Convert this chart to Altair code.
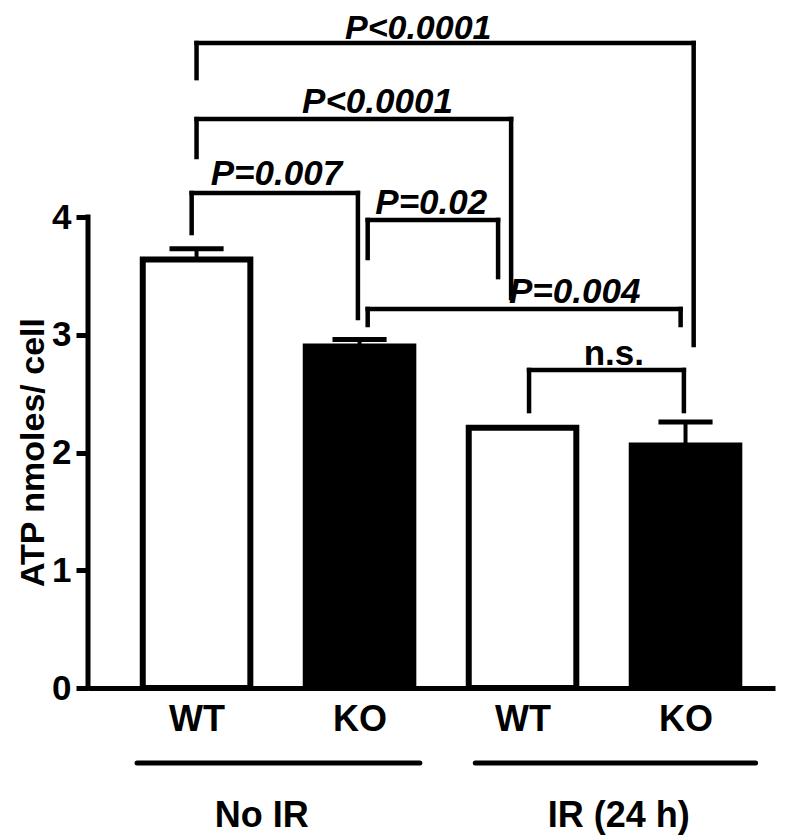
import altair as alt
import pandas as pd

# ---- data ----
genotypes = ["WT", "KO", "WT", "KO"]
conditions = ["No IR", "No IR", "IR (24 h)", "IR (24 h)"]
means = [3.64, 2.90, 2.21, 2.06]
sems = [0.09, 0.06, 0.0, 0.20]
bar_fills = ["white", "black", "white", "black"]

# significance brackets (x in bar-index units, y in ATP units)
bracket_labels = ["P<0.0001", "P<0.0001", "P=0.007", "P=0.02", "P=0.004", "n.s."]
bracket_italic = [True, True, True, True, True, False]
bracket_x1 = [0.0, 0.0, -0.03, 1.05, 1.05, 2.04]
bracket_x2 = [3.05, 1.93, 0.99, 1.85, 2.97, 2.99]
bracket_y = [5.478, 4.832, 4.204, 3.975, 3.219, 2.701]
bracket_y_left = [5.18, 4.51, 3.864, 3.652, 3.083, 2.352]
bracket_y_right = [2.913, 3.312, 3.142, 3.490, 3.083, 2.352]
bracket_text_x = [1.36, 1.11, 0.49, 1.44, 2.32, 2.56]
bracket_text_y = [5.513, 4.88, 4.27, 4.03, 3.27, 2.74]

# group underlines and labels
group_names = ["No IR", "IR (24 h)"]
group_x1 = [-0.365, 1.71]
group_x2 = [1.37, 3.43]
group_line_y = [-0.637, -0.637]
group_label_x = [0.40, 2.59]
group_label_y = [-1.18, -1.18]

FONT = "Liberation Sans"

# ---- tables ----
n = len(means)
bars_df = pd.DataFrame({
    "pos": list(range(n)),
    "genotype": genotypes,
    "condition": conditions,
    "mean": means,
    "sem": sems,
    "fill": bar_fills,
})
bars_df["left"] = bars_df["pos"] - 0.33
bars_df["right"] = bars_df["pos"] + 0.33
bars_df["base"] = 0.0
bars_df["top"] = bars_df["mean"] + bars_df["sem"]
bars_df["capl"] = bars_df["pos"] - 0.166
bars_df["capr"] = bars_df["pos"] + 0.166
err_df = bars_df[bars_df["sem"] > 0]

segs = []
for i in range(len(bracket_labels)):
    segs.append({"x": bracket_x1[i], "x2": bracket_x2[i], "y": bracket_y[i], "y2": bracket_y[i]})
    segs.append({"x": bracket_x1[i], "x2": bracket_x1[i], "y": bracket_y[i], "y2": bracket_y_left[i]})
    segs.append({"x": bracket_x2[i], "x2": bracket_x2[i], "y": bracket_y[i], "y2": bracket_y_right[i]})
seg_df = pd.DataFrame(segs)

txt_df = pd.DataFrame({
    "label": bracket_labels,
    "italic": bracket_italic,
    "x": bracket_text_x,
    "y": bracket_text_y,
    "size": [34, 35, 35, 35, 35, 35],
})

grp_df = pd.DataFrame({
    "name": group_names,
    "x1": group_x1,
    "x2": group_x2,
    "ly": group_line_y,
    "tx": group_label_x,
    "ty": group_label_y,
})

axis_df = pd.DataFrame({"y0": [0.0], "y1": [4.0]})

x_scale = alt.Scale(domain=[-0.666, 3.549], nice=False, zero=False)
y_scale = alt.Scale(domain=[0, 5.75], nice=False, zero=False)

label_expr = "[" + ",".join("'" + g + "'" for g in genotypes) + "][datum.value]"

x_axis = alt.Axis(
    values=list(range(n)), labelExpr=label_expr, title=None, grid=False,
    ticks=False, domain=True, domainColor="black", domainWidth=5,
    labelFont=FONT, labelFontSize=36, labelFontWeight="bold", labelColor="black",
    labelPadding=14, labelFlush=False, labelOverlap=False,
)
y_axis = alt.Axis(
    values=[0, 1, 2, 3, 4], format="d", grid=False, domain=False,
    tickSize=12, tickWidth=5, tickColor="black",
    labelFont=FONT, labelFontSize=35, labelFontWeight="bold", labelColor="black",
    labelPadding=5,
    title="ATP nmoles/ cell", titleFont=FONT, titleFontSize=34, titleFontWeight="bold",
    titleColor="black", titleAngle=270, titleBaseline="alphabetic", titleAlign="center",
    titleX=-45, titleY=441,
)

bars = alt.Chart(bars_df).mark_rect(stroke="black", strokeWidth=6).encode(
    x=alt.X("left:Q", scale=x_scale, axis=x_axis),
    x2="right:Q",
    y=alt.Y("mean:Q", scale=y_scale, axis=y_axis),
    y2="base:Q",
    fill=alt.Fill("fill:N", scale=None),
)

err_line = alt.Chart(err_df).mark_rule(color="black", strokeWidth=4).encode(
    x=alt.X("pos:Q", scale=x_scale),
    y=alt.Y("mean:Q", scale=y_scale),
    y2="top:Q",
)
err_cap = alt.Chart(err_df).mark_rule(color="black", strokeWidth=5).encode(
    x=alt.X("capl:Q", scale=x_scale),
    x2="capr:Q",
    y=alt.Y("top:Q", scale=y_scale),
)

y_line = alt.Chart(axis_df).mark_rule(color="black", strokeWidth=5, strokeCap="square").encode(
    x=alt.value(0),
    y=alt.Y("y0:Q", scale=y_scale),
    y2="y1:Q",
)

brackets = alt.Chart(seg_df).mark_rule(color="black", strokeWidth=4.5, strokeCap="square").encode(
    x=alt.X("x:Q", scale=x_scale),
    x2="x2:Q",
    y=alt.Y("y:Q", scale=y_scale),
    y2="y2:Q",
)

p_text = alt.Chart(txt_df).transform_filter("datum.italic").mark_text(
    font=FONT, fontWeight="bold", fontStyle="italic", color="black",
    baseline="alphabetic", align="center",
).encode(
    x=alt.X("x:Q", scale=x_scale),
    y=alt.Y("y:Q", scale=y_scale),
    size=alt.Size("size:Q", scale=None),
    text="label:N",
)
ns_text = alt.Chart(txt_df).transform_filter("!datum.italic").mark_text(
    font=FONT, fontSize=35, fontWeight="bold", color="black",
    baseline="alphabetic", align="center",
).encode(
    x=alt.X("x:Q", scale=x_scale),
    y=alt.Y("y:Q", scale=y_scale),
    text="label:N",
)

grp_lines = alt.Chart(grp_df).mark_rule(color="black", strokeWidth=5, strokeCap="round").encode(
    x=alt.X("x1:Q", scale=x_scale),
    x2="x2:Q",
    y=alt.Y("ly:Q", scale=y_scale),
)
grp_text = alt.Chart(grp_df).mark_text(
    font=FONT, fontSize=36, fontWeight="bold", color="black",
    baseline="alphabetic", align="center",
).encode(
    x=alt.X("tx:Q", scale=x_scale),
    y=alt.Y("ty:Q", scale=y_scale),
    text="name:N",
)

chart = alt.layer(
    bars, err_line, err_cap, y_line, brackets, p_text, ns_text, grp_lines, grp_text
).properties(
    width=687, height=677,
    autosize=alt.AutoSizeParams(type="none"),
    padding={"left": 80, "top": 3, "right": 17, "bottom": 149},
    background="white",
).configure_view(stroke=None)

chart.save("out.html", embed_options={"renderer": "svg", "actions": False})
